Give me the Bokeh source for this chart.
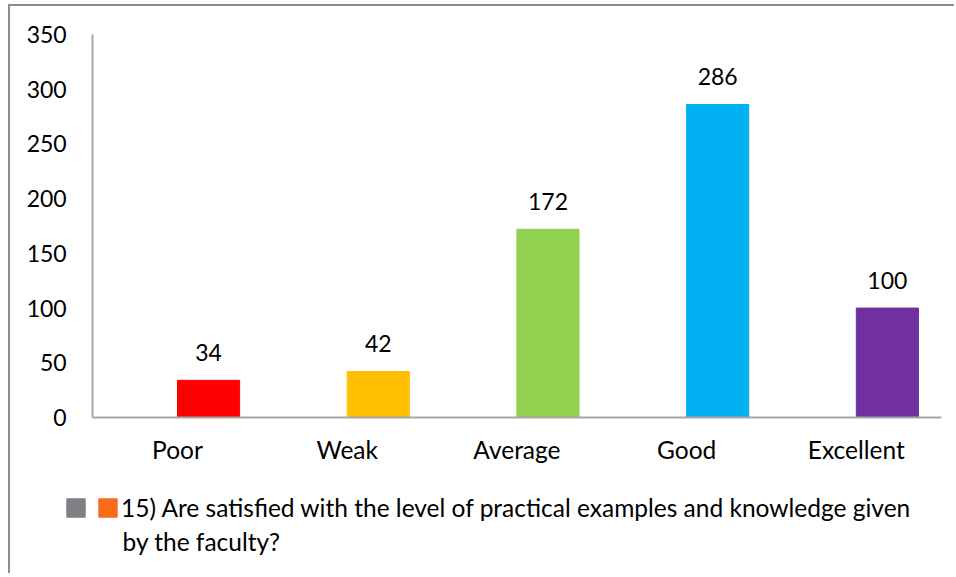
from bokeh.plotting import figure
from bokeh.models import ColumnDataSource, Legend, LegendItem, FixedTicker, Range1d, Label
from bokeh.core.properties import value
from bokeh.transform import dodge
from bokeh.embed import file_html
from bokeh.resources import INLINE

categories = ["Poor", "Weak", "Average", "Good", "Excellent"]
counts = [34, 42, 172, 286, 100]
bar_colors = ["#FF0000", "#FFC000", "#92D050", "#00B0F0", "#7030A0"]
y_ticks = [0, 50, 100, 150, 200, 250, 300, 350]
series_line1 = "15) Are satisfied with the level of practical examples and knowledge given"
series_line2 = "by the faculty?"

FONT = "Lato"
FS_NUM = "23px"
FS_TXT = "24.5px"
AXIS_COLOR = "#A6A6A6"

xs = [i + 1 for i in range(len(categories))]
src = ColumnDataSource(dict(x=xs, top=counts, color=bar_colors,
                            label=[str(v) for v in counts], cat=categories))

# the frame covers the whole canvas; axes are pinned at fixed locations
X0, X1 = 0.0159, 5.5903
Y0, Y1 = -144.4, 375.6
AX_X0, AX_X1 = 0.5, 5.5
BAR_W = 0.366
SLOT = BAR_W / 2   # second series slot of a two-series cluster

p = figure(width=946, height=569, output_backend="svg", toolbar_location=None,
           x_range=Range1d(X0, X1), y_range=Range1d(Y0, Y1),
           min_border_left=0, min_border_right=0, min_border_top=0,
           min_border_bottom=0, margin=(4, 0, 0, 8))
p.outline_line_color = None
p.grid.visible = False
p.styles = {"border-left": "2px solid #8C8C8C", "border-top": "2px solid #8C8C8C"}

xb = dodge("x", SLOT)
bars = p.vbar(x=xb, top="top", width=BAR_W, color="color", source=src)
p.text(x=xb, y="top", text="label", source=src, text_align="center",
       text_baseline="alphabetic", y_offset=-28, text_font=value(FONT),
       text_font_size=value(FS_NUM), text_color="#000000")

# legend swatches: same series, hidden renderers
gray_r = p.vbar(x=xb, top="top", width=BAR_W, color="#7F7F84", source=src, visible=False)
orange_r = p.vbar(x=xb, top="top", width=BAR_W, color="#F86B1D", source=src, visible=False)

p.yaxis.fixed_location = AX_X0
p.yaxis.bounds = (y_ticks[0], y_ticks[-1])
p.yaxis.ticker = FixedTicker(ticks=y_ticks)
p.yaxis.major_tick_line_color = None
p.yaxis.minor_tick_line_color = None
p.yaxis.major_tick_out = 0
p.yaxis.major_tick_in = 0
p.yaxis.major_label_standoff = 26
p.yaxis.axis_line_color = AXIS_COLOR
p.yaxis.axis_line_width = 2
p.yaxis.major_label_text_font = FONT
p.yaxis.major_label_text_font_size = FS_NUM
p.yaxis.major_label_text_color = "#000000"

p.xaxis.fixed_location = 0
p.xaxis.bounds = (AX_X0, AX_X1)
p.xaxis.ticker = FixedTicker(ticks=xs)
p.xaxis.major_label_overrides = {x: c for x, c in zip(xs, categories)}
p.xaxis.major_tick_line_color = None
p.xaxis.minor_tick_line_color = None
p.xaxis.major_tick_out = 0
p.xaxis.major_tick_in = 0
p.xaxis.major_label_standoff = 18
p.xaxis.axis_line_color = AXIS_COLOR
p.xaxis.axis_line_width = 2
p.xaxis.major_label_text_font = FONT
p.xaxis.major_label_text_font_size = FS_TXT
p.xaxis.major_label_text_color = "#000000"

legend = Legend(items=[LegendItem(label=" ", renderers=[gray_r]),
                       LegendItem(label=series_line1, renderers=[orange_r])],
                orientation="horizontal", location=(54, 53),
                glyph_width=23, glyph_height=23, label_standoff=2, spacing=7,
                label_width=0, padding=0, margin=0, border_line_color=None,
                background_fill_alpha=0, inactive_fill_alpha=0,
                label_text_font=FONT, label_text_font_size=FS_TXT,
                label_text_color="#000000", click_policy="none")
p.add_layout(legend, "center")

p.add_layout(Label(x=112, y=34, x_units="screen", y_units="screen",
                   text=series_line2, text_font=FONT, text_font_size=FS_TXT,
                   text_color="#000000", text_baseline="alphabetic"))

open("out.html", "w").write(file_html(p, INLINE))
